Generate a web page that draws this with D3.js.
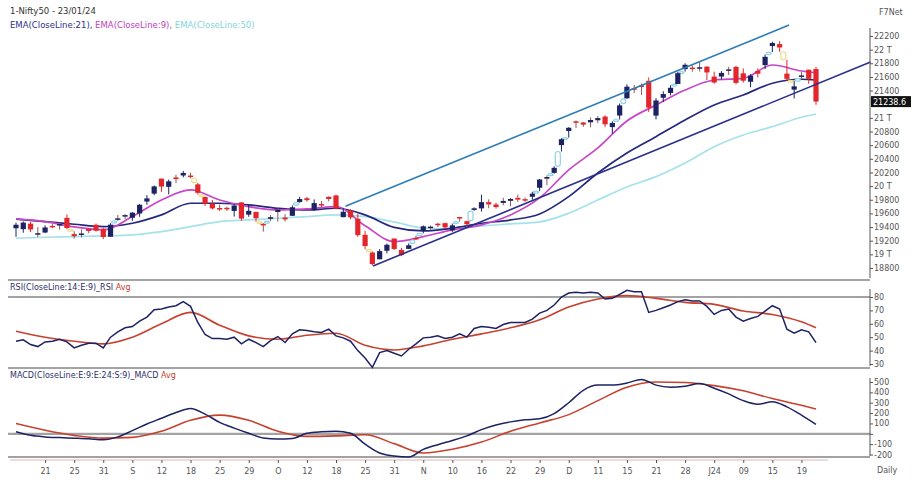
<!DOCTYPE html>
<html>
<head>
<style>
  body { margin: 0; background: #fff; }
  svg text { font-family: "DejaVu Sans", Verdana, sans-serif; }
  .tick line { stroke: #555; }
  .tick text { fill: #555; font-size: 8px; }
</style>
<script src="https://cdn.jsdelivr.net/npm/d3@7/dist/d3.min.js"></script>
</head>
<body>
<svg width="917" height="486"></svg>
<script>
// ---- data ----
var dates = ["14/08","16/08","17/08","18/08","21/08","22/08","23/08","24/08","25/08","28/08","29/08","30/08","31/08",
  "01/09","04/09","05/09","06/09","07/09","08/09","11/09","12/09","13/09","14/09","15/09","18/09","20/09","21/09","22/09","25/09","26/09","27/09","28/09","29/09",
  "03/10","04/10","05/10","06/10","09/10","10/10","11/10","12/10","13/10","16/10","17/10","18/10","19/10","20/10","23/10","25/10","26/10","27/10","30/10","31/10",
  "01/11","02/11","03/11","06/11","07/11","08/11","09/11","10/11","12/11","13/11","15/11","16/11","17/11","20/11","21/11","22/11","23/11","24/11","28/11","29/11","30/11",
  "01/12","04/12","05/12","06/12","07/12","08/12","11/12","12/12","13/12","14/12","15/12","18/12","19/12","20/12","21/12","22/12","26/12","27/12","28/12","29/12",
  "01/01","02/01","03/01","04/01","05/01","08/01","09/01","10/01","11/01","12/01","15/01","16/01","17/01","18/01","19/01","20/01","23/01"];

var open = [19383,19369,19450,19301,19320,19417,19440,19535,19297,19298,19374,19433,19375,
  19258,19526,19564,19536,19599,19774,19890,20110,19990,20127,20156,20155,20026,19840,19744,19679,19682,19637,19761,19582,
  19622,19446,19521,19621,19539,19565,19767,19822,19654,19737,19843,19863,19545,19643,19521,19286,19027,18928,19053,19232,
  19064,19080,19241,19345,19405,19449,19457,19351,19547,19486,19651,19674,19765,19731,19754,19784,19828,19809,19844,19976,20109,
  20194,20601,20808,20950,20932,20935,20965,21019,20865,21034,21287,21434,21477,21543,21033,21295,21365,21497,21715,21737,
  21727,21751,21605,21605,21706,21747,21653,21529,21688,21774,22053,22081,21648,21414,21615,21706,21716];
var high = [19465,19482,19479,19399,19425,19443,19472,19585,19339,19366,19377,19452,19388,
  19458,19576,19588,19619,19737,19867,20009,20110,20096,20168,20222,20196,20050,19848,19798,19730,19699,19734,19766,19726,
  19623,19457,19576,19676,19588,19717,19843,19843,19805,19781,19849,19875,19681,19660,19593,19347,19042,19076,19158,19233,
  19096,19161,19276,19423,19423,19464,19464,19451,19547,19494,19693,19875,19806,19756,19829,19826,19875,19832,19917,20104,20158,
  20291,20702,20864,20962,20941,21006,21026,21037,20950,21210,21492,21482,21505,21593,21289,21390,21477,21675,21801,21770,
  21834,21755,21677,21685,21749,21763,21724,21641,21726,21928,22116,22124,21851,21539,21671,21707,21750];
var low = [19257,19317,19326,19254,19310,19381,19362,19369,19230,19249,19309,19334,19224,
  19256,19491,19513,19491,19550,19727,19866,19915,19879,20044,20129,20115,19879,19709,19658,19635,19637,19554,19492,19551,
  19479,19333,19487,19480,19480,19565,19757,19772,19636,19691,19775,19660,19545,19514,19257,19074,18837,18926,19015,19063,
  18974,19080,19210,19309,19363,19401,19378,19329,19480,19414,19633,19627,19676,19670,19719,19703,19768,19768,19800,19926,20015,
  20183,20507,20711,20852,20868,20862,20923,20867,20770,20976,21280,21365,21337,21088,20977,21232,21329,21495,21678,21677,
  21680,21555,21500,21564,21629,21493,21517,21449,21593,21715,21964,21969,21550,21285,21575,21500,21192];
var close = [19434,19465,19365,19310,19394,19396,19444,19386,19266,19306,19342,19347,19254,
  19435,19528,19575,19611,19727,19820,19996,19993,20070,20103,20192,20134,19902,19742,19674,19675,19665,19716,19524,19638,
  19529,19436,19545,19654,19512,19690,19811,19794,19751,19731,19811,19671,19624,19542,19282,19122,18857,19047,19140,19079,
  18989,19133,19230,19411,19406,19443,19395,19425,19525,19443,19675,19765,19732,19694,19783,19812,19802,19794,19889,20097,20133,
  20268,20687,20855,20937,20901,20969,20997,20906,20926,21183,21457,21419,21453,21150,21255,21349,21441,21655,21778,21731,
  21742,21666,21518,21659,21711,21513,21545,21619,21647,21895,22097,22032,21572,21462,21622,21572,21239];
var lastPrice = 21238.6;

// moving averages, read every 4th bar (bars 0,4,...,108 and 110)
var emaBars = d3.range(0, 109, 4).concat([110]);
var ema9  = [19519,19480,19402,19358,19553,19797,19944,19797,19699,19651,19666,19699,19420,19187,19260,19358,19431,19578,19827,20237,20559,20955,21189,21409,21555,21580,21775,21687,21662];
var ema21 = [19515,19480,19441,19406,19456,19578,19749,19749,19724,19676,19651,19676,19578,19395,19343,19383,19456,19504,19592,19846,20193,20486,20725,20969,21189,21336,21507,21566,21555];
var ema50 = [19236,19251,19260,19270,19285,19333,19406,19480,19504,19529,19553,19578,19553,19475,19387,19373,19416,19446,19475,19603,19797,19988,20139,20339,20578,20750,20871,21009,21057];

// trend lines drawn on the chart: [bar, price] anchors
var channelLine = [[45.3, 19704], [106.3, 22361]];
var supportLine = [[49.1, 18830], [117.5, 21819]];

// RSI(14) per bar, and its average every 4th bar
var rsi = [47,48,44.5,43,46.5,47,48.5,46.5,42,44,45.5,45.5,42,50,54,57,58,62,65,70.5,
  71,72.5,73.5,76.5,73,61,52,49,49,48.5,50,45,48.5,46,43,47.5,50.5,46,52.5,55.5,
  55,54,53.5,56,51,49.5,47,40,34.5,27.5,38.5,40,38,36,41,45,49.5,50,51,49,
  50,52.5,50,56.5,58,57.5,56.5,59.5,61,61,61,63.5,68,70,74,80,83,83.5,83,83.5,
  83,78.5,79,82,85,84,84,68.5,70,72,74,76.5,78,77,77,73,67,70,71,65,
  62,64,65.5,69.5,73.5,71,56,53,55.5,54,46];
var rsiAvg = [54.5,50,47,45,50,60,68.5,59,51,48.5,51.5,53,44,40.5,43.5,48.5,52.5,57,63,72.5,78.5,81,79,76,74.5,69.5,67,61.5,57];

// MACD every 2nd bar, its average every 4th bar
var macdBars = d3.range(0, 111, 2);
var macd = [20,-15,-30,-37,-42,-48,-58,-30,30,95,150,205,245,190,110,55,5,-40,-50,-45,
  5,20,25,5,-100,-185,-215,-225,-150,-105,-65,-20,40,85,115,135,145,195,300,420,
  470,470,490,525,470,450,460,485,440,385,320,285,310,260,180,90];
var macdAvg = [100,35,-15,-42,-35,25,130,180,130,25,-25,-20,-10,-95,-185,-150,-80,25,105,185,320,450,500,495,465,415,340,275,240];

var tickLabels = ["21","25","31","S","12","18","25","29","O","12","18","25","31","N","10","16","22","29","D","11","15","21","28","J24","09","15","19"];
var priceTicks = [18800,19000,19200,19400,19600,19800,20000,20200,20400,20600,20800,21000,21400,21600,21800,22000,22200];
var rsiTicks = [30, 40, 50, 60, 70, 80];
var macdTicks = [-200, -100, 0, 100, 200, 300, 400, 500];

// ---- drawing ----
var svg = d3.select("svg");
var axisX = 870;
var navy = "#1c2262", red = "#e3262b", magenta = "#c846c8", cyanL = "#a6e2ea", avgRed = "#c8412f";

var x = d3.scaleLinear().domain([0, 110]).range([16, 816]);
var yP = d3.scaleLinear().domain([18800, 22200]).range([268, 36]);
var yR = d3.scaleLinear().domain([30, 80]).range([364, 297]);
var yM = d3.scaleLinear().domain([-200, 500]).range([454.5, 382]);

// panel frames
[280, 368, 457].forEach(function(y) {
  svg.append("line").attr("x1", 8).attr("x2", axisX).attr("y1", y).attr("y2", y)
     .attr("stroke", "#a3a3a3").attr("stroke-width", 2.2);
});
svg.append("line").attr("x1", 8).attr("x2", axisX).attr("y1", yR(80)).attr("y2", yR(80))
   .attr("stroke", "#a3a3a3").attr("stroke-width", 2.2);
svg.append("line").attr("x1", 8).attr("x2", axisX).attr("y1", yM(0)).attr("y2", yM(0))
   .attr("stroke", "#a3a3a3").attr("stroke-width", 2.2);

// price EMAs
function emaLine(vals, color) {
  svg.append("path")
     .datum(vals)
     .attr("fill", "none").attr("stroke", color).attr("stroke-width", 1.7)
     .attr("d", d3.line().curve(d3.curveMonotoneX)
        .x(function(d, i) { return x(emaBars[i]); })
        .y(function(d) { return yP(d); }));
}
emaLine(ema50, cyanL);
emaLine(ema21, "#25287e");
emaLine(ema9, magenta);

// gap markers between bars
var gaps = [];
for (var i = 1; i < close.length; i++) {
  if (low[i] > high[i - 1]) gaps.push({ i: i, a: high[i - 1], b: low[i], up: true });
  else if (high[i] < low[i - 1]) gaps.push({ i: i, a: high[i], b: low[i - 1], up: false });
}
svg.append("g").selectAll("rect").data(gaps).enter().append("rect")
   .attr("x", function(d) { return x(d.i - 0.5) - 2.5; })
   .attr("width", 5)
   .attr("y", function(d) { return yP(d.b); })
   .attr("height", function(d) { return Math.max(2, yP(d.a) - yP(d.b)); })
   .attr("rx", 2.5)
   .attr("fill", "#fff")
   .attr("stroke", function(d) { return d.up ? "#8fd3e6" : "#f0dc86"; })
   .attr("stroke-width", 1.2);

// candles
var bars = d3.range(close.length);
var candle = svg.append("g").selectAll("g").data(bars).enter().append("g");
function cColor(i) { return close[i] >= open[i] ? navy : red; }
candle.append("line")
   .attr("x1", function(i) { return x(i); }).attr("x2", function(i) { return x(i); })
   .attr("y1", function(i) { return yP(high[i]); }).attr("y2", function(i) { return yP(low[i]); })
   .attr("stroke", function(i) { return Math.abs(close[i] - open[i]) < 35 ? "#8a5a50" : cColor(i); })
   .attr("stroke-width", 1);
candle.append("rect")
   .attr("x", function(i) { return x(i) - 2.6; })
   .attr("width", 5.2)
   .attr("y", function(i) { return yP(Math.max(open[i], close[i])); })
   .attr("height", function(i) { return Math.max(1.5, Math.abs(yP(open[i]) - yP(close[i]))); })
   .attr("fill", cColor);

// trend lines
function trend(pts, color) {
  svg.append("line")
     .attr("x1", x(pts[0][0])).attr("y1", yP(pts[0][1]))
     .attr("x2", x(pts[1][0])).attr("y2", yP(pts[1][1]))
     .attr("stroke", color).attr("stroke-width", 1.6);
}
trend(channelLine, "#2f7db5");
trend(supportLine, "#2a2f8c");

// RSI panel
svg.append("path").datum(rsiAvg)
   .attr("fill", "none").attr("stroke", avgRed).attr("stroke-width", 1.6)
   .attr("d", d3.line().curve(d3.curveMonotoneX)
      .x(function(d, i) { return x(emaBars[i]); }).y(function(d) { return yR(d); }));
svg.append("path").datum(rsi)
   .attr("fill", "none").attr("stroke", navy).attr("stroke-width", 1.5)
   .attr("d", d3.line().x(function(d, i) { return x(i); }).y(function(d) { return yR(d); }));

// MACD panel
svg.append("path").datum(macdAvg)
   .attr("fill", "none").attr("stroke", avgRed).attr("stroke-width", 1.6)
   .attr("d", d3.line().curve(d3.curveMonotoneX)
      .x(function(d, i) { return x(emaBars[i]); }).y(function(d) { return yM(d); }));
svg.append("path").datum(macd)
   .attr("fill", "none").attr("stroke", navy).attr("stroke-width", 1.5)
   .attr("d", d3.line().curve(d3.curveMonotoneX)
      .x(function(d, i) { return x(macdBars[i]); }).y(function(d) { return yM(d); }));

// right axes
function rightAxis(scale, ticks, fmt, y0, y1) {
  svg.append("line").attr("x1", axisX).attr("x2", axisX).attr("y1", y0).attr("y2", y1)
     .attr("stroke", "#555").attr("stroke-width", 1);
  var g = svg.append("g").attr("transform", "translate(" + axisX + ",0)")
     .call(d3.axisRight(scale).tickValues(ticks).tickSize(3).tickSizeOuter(0).tickPadding(1).tickFormat(fmt));
  g.select(".domain").remove();
}
rightAxis(yP, priceTicks, function(v) { return v % 1000 === 0 ? (v / 1000) + " T" : v; }, 28, 278);
rightAxis(yR, rsiTicks, function(v) { return v; }, 289, 366);
rightAxis(yM, macdTicks, function(v) { return v === 0 ? "" : v; }, 378, 456);

// last price tag
svg.append("rect").attr("x", axisX + 1).attr("y", yP(lastPrice) - 5.5).attr("width", 40).attr("height", 11).attr("fill", "#111");
svg.append("text").attr("x", axisX + 3).attr("y", yP(lastPrice) + 3).attr("fill", "#fff")
   .style("font-size", "8px").text(lastPrice);

// bottom axis
var gx = svg.append("g").attr("transform", "translate(0,460)")
   .call(d3.axisBottom(x).tickValues(tickLabels.map(function(d, k) { return 4 + 4 * k; }))
      .tickSize(3).tickSizeOuter(0).tickPadding(5)
      .tickFormat(function(d, k) { return tickLabels[k]; }));
gx.select(".domain").attr("stroke", "#dcb8b8").attr("d", "M10,0H828");
gx.selectAll(".tick line").attr("stroke", "#caa");

// texts
svg.append("text").attr("x", 10).attr("y", 14).attr("fill", "#333").style("font-size", "8.5px").text("1-Nifty50 - 23/01/24");
var leg = svg.append("text").attr("x", 10).attr("y", 28).style("font-size", "8.5px");
leg.append("tspan").attr("fill", "#2d2f8a").text("EMA(CloseLine:21), ");
leg.append("tspan").attr("fill", "#c03cc0").text("EMA(CloseLine:9), ");
leg.append("tspan").attr("fill", "#7fd4dc").text("EMA(CloseLine:50)");
svg.append("text").attr("x", 879).attr("y", 15).attr("fill", "#555").style("font-size", "8px").text("F7Net");
svg.append("text").attr("x", 877).attr("y", 473).attr("fill", "#555").style("font-size", "8px").text("Daily");

var r1 = svg.append("text").attr("x", 10).attr("y", 290).style("font-size", "8px");
r1.append("tspan").attr("fill", "#2d2f6a").text("RSI(CloseLine:14:E:9)_RSI ");
r1.append("tspan").attr("fill", avgRed).text("Avg");
var m1 = svg.append("text").attr("x", 10).attr("y", 378).style("font-size", "8px");
m1.append("tspan").attr("fill", "#2d2f6a").text("MACD(CloseLine:E:9:E:24:S:9)_MACD ");
m1.append("tspan").attr("fill", avgRed).text("Avg");
</script>
</body>
</html>
